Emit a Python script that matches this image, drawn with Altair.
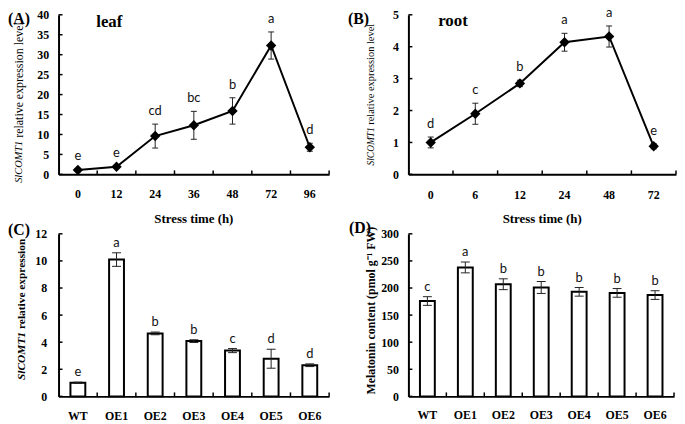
import altair as alt
import pandas as pd

# ---------------- data ----------------
# (A) leaf
a_time = ["0", "12", "24", "36", "48", "72", "96"]
a_mean = [1.1, 1.9, 9.6, 12.3, 15.9, 32.3, 6.8]
a_err = [0.3, 0.3, 3.0, 3.5, 3.3, 3.4, 1.0]
a_sig = ["e", "e", "cd", "bc", "b", "a", "d"]
a_ticks = [0, 5, 10, 15, 20, 25, 30, 35, 40]

# (B) root
b_time = ["0", "6", "12", "24", "48", "72"]
b_mean = [1.0, 1.9, 2.85, 4.14, 4.32, 0.88]
b_err = [0.17, 0.33, 0.1, 0.28, 0.33, 0.08]
b_sig = ["d", "c", "b", "a", "a", "e"]
b_ticks = [0, 1, 2, 3, 4, 5]

# (C) / (D) lines
lines = ["WT", "OE1", "OE2", "OE3", "OE4", "OE5", "OE6"]
c_mean = [1.0, 10.1, 4.65, 4.08, 3.38, 2.78, 2.3]
c_err = [0.05, 0.5, 0.1, 0.1, 0.15, 0.7, 0.1]
c_sig = ["e", "a", "b", "b", "c", "d", "d"]
c_ticks = [0, 2, 4, 6, 8, 10, 12]

d_mean = [176, 238, 207, 201, 193, 191, 187]
d_err = [8, 10, 10, 11, 8, 8, 8]
d_sig = ["c", "a", "b", "b", "b", "b", "b"]
d_ticks = [0, 50, 100, 150, 200, 250, 300]

SERIF = "Liberation Serif"
SANS = "Lato"


def note(text, x, y, **kw):
    return alt.Chart(pd.DataFrame({"t": [text]})).mark_text(
        color="black", **kw
    ).encode(text="t:N", x=alt.value(x), y=alt.value(y))


def panel(cats, mean, err, sig, ticks, w, h, kind, xpad, ypad, letter_dy, cap):
    df = pd.DataFrame({
        "cat": cats,
        "v": mean,
        "lo": [m - e for m, e in zip(mean, err)],
        "hi": [m + e for m, e in zip(mean, err)],
        "sig": sig,
    })
    xs = alt.Scale(paddingInner=0, paddingOuter=0)
    ys = alt.Scale(domain=[ticks[0], ticks[-1]], nice=False)
    xax = alt.Axis(title=None, labelAngle=0, labelPadding=xpad)
    yax = alt.Axis(title=None, values=ticks, labelPadding=ypad)

    def X(**kw):
        return alt.X("cat:N", sort=cats, scale=xs, axis=xax, **kw)

    def Y(f):
        return alt.Y(f + ":Q", scale=ys, axis=yax)

    base = alt.Chart(df)
    layers = []
    if kind == "line":
        layers.append(base.mark_line(color="black", strokeWidth=2).encode(x=X(), y=Y("v")))
    else:
        layers.append(base.mark_bar(fill="white", stroke="black", strokeWidth=2,
                                    size=15).encode(x=X(), y=Y("v")))
    layers.append(base.mark_rule(color="#222", strokeWidth=1).encode(
        x=X(), y=Y("lo"), y2="hi:Q"))
    for f in ["lo", "hi"]:
        layers.append(base.mark_tick(orient="horizontal", size=cap, thickness=1,
                                     color="#222", opacity=1).encode(x=X(), y=Y(f)))
    if kind == "line":
        layers.append(base.mark_point(shape="diamond", filled=True, size=110,
                                      color="black", opacity=1).encode(x=X(), y=Y("v")))
    layers.append(base.mark_text(font=SANS, fontSize=13, baseline="bottom",
                                 dy=letter_dy, color="#111").encode(
        x=X(), y=Y("hi"), text="sig:N"))
    # inward x ticks at band boundaries
    layers.append(base.mark_rule(color="black", strokeWidth=1.5).encode(
        x=X(bandPosition=1), y=alt.value(h), y2=alt.value(h - 4)))
    # inward y ticks
    layers.append(alt.Chart(pd.DataFrame({"t": ticks})).mark_rule(
        color="black", strokeWidth=1.5).encode(
        y=Y("t"), x=alt.value(0), x2=alt.value(4)))
    return layers


W_A, H_TOP = 273, 161
W_B = 270
W_C, H_BOT = 273, 164
W_D = 268

A = alt.layer(
    *panel(a_time, a_mean, a_err, a_sig, a_ticks, W_A, H_TOP, "line", 14, 10, -6, 6),
    note("(A)", -51, -4, font=SERIF, fontSize=16, fontWeight="bold", align="left", baseline="top"),
    note("leaf", 38, 12, font=SERIF, fontSize=17, fontWeight="bold", align="left", baseline="alphabetic"),
    note("SlCOMT1", -40, 127, font=SERIF, fontSize=10.5, fontStyle="italic", angle=270,
         align="right", baseline="middle"),
    note("relative expression level", -40, 124, font=SERIF, fontSize=12, angle=270,
         align="left", baseline="middle"),
    note("Stress time (h)", W_A / 2, 206, font=SERIF, fontSize=13, fontWeight="bold",
         align="center", baseline="middle"),
).properties(width=W_A, height=H_TOP)

B = alt.layer(
    *panel(b_time, b_mean, b_err, b_sig, b_ticks, W_B, H_TOP, "line", 15, 10, -6, 6),
    note("(B)", -61, -4, font=SERIF, fontSize=16, fontWeight="bold", align="left", baseline="top"),
    note("root", 30, 11, font=SERIF, fontSize=17, fontWeight="bold", align="left", baseline="alphabetic"),
    note("SlCOMT1", -38, 113.5, font=SERIF, fontSize=9.5, fontStyle="italic", angle=270,
         align="right", baseline="middle"),
    note("relative expression level", -38, 111, font=SERIF, fontSize=10.5, angle=270,
         align="left", baseline="middle"),
    note("Stress time (h)", W_B / 2, 206, font=SERIF, fontSize=13, fontWeight="bold",
         align="center", baseline="middle"),
).properties(width=W_B, height=H_TOP)

C = alt.layer(
    *panel(lines, c_mean, c_err, c_sig, c_ticks, W_C, H_BOT, "bar", 14, 12, -3, 9),
    note("(C)", -51, -12, font=SERIF, fontSize=16, fontWeight="bold", align="left", baseline="top"),
    note("SlCOMT1", -37, 99, font=SERIF, fontSize=11.5, fontStyle="italic", fontWeight="bold",
         angle=270, align="right", baseline="middle"),
    note("relative expression", -37, 96, font=SERIF, fontSize=11.5, fontWeight="bold",
         angle=270, align="left", baseline="middle"),
).properties(width=W_C, height=H_BOT)

D = alt.layer(
    *panel(lines, d_mean, d_err, d_sig, d_ticks, W_D, H_BOT, "bar", 13, 10, -3, 9),
    note("(D)", -60, -14, font=SERIF, fontSize=16, fontWeight="bold", align="left", baseline="top"),
    note("Melatonin content (pmol g\u207b\u00b9 FW)", -38, 77.5, font=SERIF, fontSize=12,
         fontWeight="bold", angle=270, align="center", baseline="middle"),
).properties(width=W_D, height=H_BOT)

chart = alt.concat(
    A, B, C, D, columns=2, spacing={"row": 60, "column": 80}, bounds="flush",
).properties(
    padding={"left": 0, "top": -3, "right": 0, "bottom": 0}, background="white"
).configure_view(
    stroke=None
).configure_axis(
    domainColor="black", domainWidth=2, ticks=False, tickSize=0, grid=False,
    labelFont=SERIF, labelFontWeight="bold", labelFontSize=12, labelColor="black",
)

chart.save("out.html", embed_options={"renderer": "svg", "actions": False})
